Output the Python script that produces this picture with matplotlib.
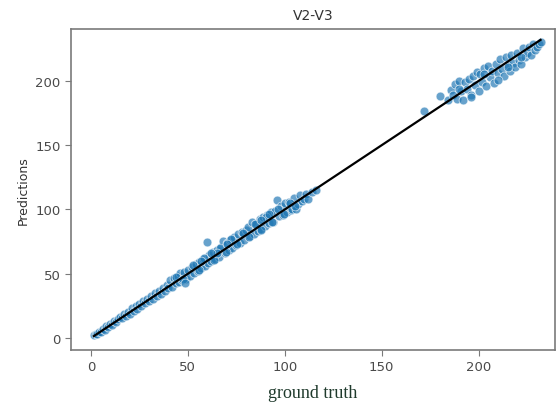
import matplotlib
matplotlib.use("Agg")
import matplotlib.pyplot as plt
import numpy as np

title = "V2-V3"
xlabel = "ground truth"
ylabel = "Predictions"
xticks = [0, 50, 100, 150, 200]
yticks = [0, 50, 100, 150, 200]

gt_low = [1.5, 2.5, 3, 4, 5, 6, 7, 8, 9, 10, 11, 12, 13, 14, 15, 16, 17, 18, 19, 20,
          21, 22, 23, 24, 25, 26, 27, 28, 29, 30, 31, 32, 33, 34, 35, 36, 37, 38, 39, 40]
pred_low = [2, 3.5, 2.8, 5, 4.6, 7, 6.5, 9.5, 8.2, 11, 10.4, 13, 12.1, 14.8, 16.5, 15.2, 18.4, 17.1, 20.5, 19,
            23.5, 21.2, 25, 22.6, 26.1, 24.8, 28.5, 26.9, 30.2, 29.1, 32.4, 30.5, 34.8, 32.7, 36.2, 34.5, 38.9, 36.4, 41, 38.7]

gt_mid = [41, 42, 43, 44, 45, 45.5, 46, 47, 48, 49, 50, 51, 52, 53, 54, 55, 56, 57, 58, 59,
          60, 60.5, 61, 62, 63, 64, 65, 66, 67, 68, 69, 70, 71, 72, 73, 74, 75, 76, 77, 78, 79, 80]
pred_mid = [45, 40, 47, 42.5, 48, 43.2, 50.5, 44.8, 51.3, 46, 53, 48.4, 55.1, 50.2, 57.4, 52.1, 59, 54.3, 61.8, 56,
            75, 58.2, 64.5, 59.6, 66.8, 61.5, 68.3, 63.2, 70.9, 75.5, 66.4, 73.8, 68.5, 76.2, 70.1, 78.5, 72, 80.9, 74.3, 82.6, 76.1, 84.2]

gt_hi = [81, 82, 83, 84, 85, 86, 87, 88, 89, 90, 91, 92, 93, 94, 95, 96, 97, 98, 99, 100,
         101, 102, 103, 104, 105, 106, 107, 108, 109, 110, 111, 112, 114, 116]
pred_hi = [86, 79.5, 90, 81, 88.5, 83.2, 92.4, 85, 94.1, 86.8, 95.6, 89.2, 97.8, 90.5, 99.2, 107, 94.8, 102.5, 96.1, 104.8,
           98.3, 106.2, 99.5, 100.4, 108.9, 100, 104.2, 111, 106.3, 108.5, 112.4, 108, 113.5, 115.5]

gt_extra = [44, 47.5, 48.5, 52.5, 55.5, 58.5, 63.5, 66.5, 69.5, 72.5, 75.5, 78.5, 81.5, 84.5, 87.5, 90.5, 93.5,
            96.5, 99.5, 102.5, 105.5, 88, 92, 65, 70, 57, 62]
pred_extra = [47.8, 46, 42.5, 57, 53.3, 62.4, 61, 70.2, 67, 76.9, 72.8, 81.5, 78.7, 88.7, 84, 94.5, 90.2,
              100.6, 96.7, 105.2, 102.9, 91.5, 96.8, 66.2, 73.5, 60.3, 66]

gt_top = [172, 180, 184, 186, 187, 188, 189, 190, 191, 192, 193, 194, 195, 196, 197, 198, 199, 200,
          201, 202, 203, 204, 205, 206, 207, 208, 209, 210, 211, 212, 213, 214, 215, 216, 217, 218,
          219, 220, 221, 222, 223, 224, 225, 226, 227, 228, 229, 230, 231, 232,
          190, 196, 203, 210, 215, 222]
pred_top = [177, 188, 185, 193, 189, 197.5, 186, 200, 192.5, 185.5, 199, 194, 201.5, 189, 204, 196.8, 207, 192,
            205.5, 199.2, 210, 196.4, 212, 203, 207.5, 198.8, 213.4, 206, 217, 209.6, 204, 218.5, 212.2, 207.5, 220.4, 214,
            210.6, 221.8, 216.5, 213.2, 225.6, 218.8, 222, 226.4, 220.3, 228.5, 224, 226.8, 229, 230.5,
            193.5, 187.6, 205.8, 200.5, 210.7, 219]

gt = np.array(gt_low + gt_mid + gt_hi + gt_extra + gt_top, dtype=float)
pred = np.array(pred_low + pred_mid + pred_hi + pred_extra + pred_top, dtype=float)
assert len(gt) == len(pred)

fig = plt.figure(figsize=(5.59, 4.10), dpi=100)
ax = fig.add_axes([0.127, 0.144, 0.866, 0.783])

ax.scatter(gt, pred, s=40, color="#1f77b4", edgecolor="white", linewidth=0.6, alpha=0.68, zorder=2)
lo, hi = gt.min(), gt.max()
ax.plot([lo, hi], [lo, hi], color="black", linewidth=1.6, zorder=3)

ax.set_xlim(-10.3, 239.5)
ax.set_ylim(-9.3, 240.5)
ax.set_xticks(xticks)
ax.set_yticks(yticks)

for s in ax.spines.values():
    s.set_color("#7a7a7a")
    s.set_linewidth(1.2)
ax.tick_params(colors="#7a7a7a", labelcolor="#4a4a4a", labelsize=9.5, length=4)

ax.set_title(title, fontsize=10, color="#333333", pad=7)
ax.set_ylabel(ylabel, fontsize=9, color="#333333", labelpad=4)
ax.set_xlabel(xlabel, fontsize=13, color="#1f3a2c", family="Liberation Serif", labelpad=8)

fig.savefig("out.png", dpi=100)
